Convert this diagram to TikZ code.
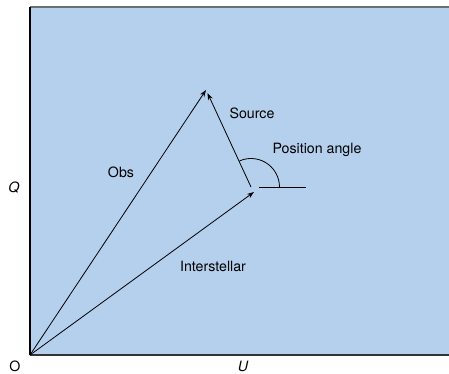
\documentclass[tikz,border=0pt]{standalone}
\usepackage{fontspec}
\setmainfont{TeX Gyre Heros}
\usetikzlibrary{arrows.meta,calc}
\definecolor{mybg}{RGB}{180,208,237}
\definecolor{myframe}{RGB}{110,110,110}
\tikzset{
  vec/.style={line width=0.8pt,-{Stealth[length=7pt,width=5pt]}},
  lbl/.style={font=\fontsize{14.2}{16}\selectfont,inner sep=0pt}
}
\begin{document}
\begin{tikzpicture}[x=1pt,y=1pt]
  \useasboundingbox (0,0) rectangle (449,373);
  % the plane and its frame
  \fill[mybg] (30,18) rectangle (449,366);
  \draw[myframe,line width=1.4pt] (30,366) -- (449,366);
  \draw[black!80,line width=1.4pt] (30,18) -- (449,18);
  \draw[line width=1.2pt] (30,18) -- (30,366);
  % points
  \coordinate (o) at (30,18);
  \coordinate (obs) at (206,283);
  \coordinate (ism) at (254,181);
  \coordinate (src) at (251,186);
  \coordinate (tip) at (207.5,280);
  \coordinate (ref) at (306,186);
  % the three vectors
  \draw[vec] (o) -- (obs);
  \draw[vec] (o) -- (ism);
  \draw[vec] (src) -- (tip);
  % reference line and position angle
  \draw[line width=0.8pt] ($(src)+(8,0)$) -- (ref);
  \draw[line width=0.8pt] ($(src)+(28.5,0)$) arc[start angle=0,end angle=114,radius=28.5];
  % labels
  \node[lbl] (lobs) at (121,201) {Obs};
  \node[lbl] (lsrc) at (252,260) {Source};
  \node[lbl] (lpa) at (317,223) {Position angle};
  \node[lbl] (lism) at (213,107) {Interstellar};
  \node[lbl] (lq) at (14,185) {\itshape Q};
  \node[lbl,anchor=base] (lu) at (243,2) {\itshape U};
  \node[lbl,anchor=base] (lo) at (15,2) {O};
\end{tikzpicture}
\end{document}
